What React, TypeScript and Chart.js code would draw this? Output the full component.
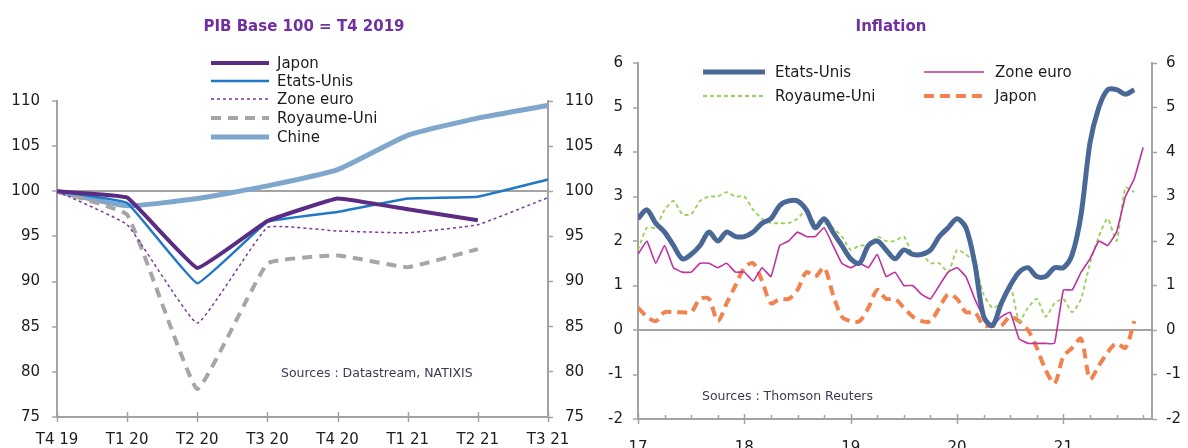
import React, { useEffect, useRef } from 'react';
import { Chart, registerables } from 'chart.js';

Chart.register(...registerables);

// ---------- PIB (Base 100 = T4 2019) ----------
const PIB_LABELS = ['T4 19', 'T1 20', 'T2 20', 'T3 20', 'T4 20', 'T1 21', 'T2 21', 'T3 21'];
const PIB_JAPON = [100, 99.3, 91.5, 96.7, 99.2, 98.0, 96.8, null];
const PIB_ETATS_UNIS = [100, 98.7, 89.8, 96.6, 97.7, 99.2, 99.4, 101.3];
const PIB_ZONE_EURO = [100, 96.3, 85.4, 96.0, 95.6, 95.4, 96.3, 99.3];
const PIB_ROYAUME_UNI = [100, 97.4, 78.1, 92.0, 92.9, 91.6, 93.6, null];
const PIB_CHINE = [100, 98.4, 99.2, 100.6, 102.4, 106.2, 108.1, 109.5];

// ---------- Inflation (monthly, from Jan 2017) ----------
const INF_YEAR_LABELS = ['17', '18', '19', '20', '21'];
const INF_ETATS_UNIS = [
  2.5, 2.7, 2.4, 2.2, 1.9, 1.6, 1.7, 1.9, 2.2, 2.0, 2.2, 2.1,
  2.1, 2.2, 2.4, 2.5, 2.8, 2.9, 2.9, 2.7, 2.3, 2.5, 2.2, 1.9,
  1.6, 1.5, 1.9, 2.0, 1.8, 1.6, 1.8, 1.7, 1.7, 1.8, 2.1, 2.3,
  2.5, 2.3, 1.5, 0.3, 0.1, 0.6, 1.0, 1.3, 1.4, 1.2, 1.2, 1.4,
  1.4, 1.7, 2.6, 4.2, 5.0, 5.4, 5.4, 5.3, 5.4,
];
const INF_ZONE_EURO = [
  1.7, 2.0, 1.5, 1.9, 1.4, 1.3, 1.3, 1.5, 1.5, 1.4, 1.5, 1.3,
  1.3, 1.1, 1.4, 1.2, 1.9, 2.0, 2.2, 2.1, 2.1, 2.3, 1.9, 1.5,
  1.4, 1.5, 1.4, 1.7, 1.2, 1.3, 1.0, 1.0, 0.8, 0.7, 1.0, 1.3,
  1.4, 1.2, 0.7, 0.3, 0.1, 0.3, 0.4, -0.2, -0.3, -0.3, -0.3, -0.3,
  0.9, 0.9, 1.3, 1.6, 2.0, 1.9, 2.2, 3.0, 3.4, 4.1,
];
const INF_ROYAUME_UNI = [
  1.8, 2.3, 2.3, 2.7, 2.9, 2.6, 2.6, 2.9, 3.0, 3.0, 3.1, 3.0,
  3.0, 2.7, 2.5, 2.4, 2.4, 2.4, 2.5, 2.7, 2.4, 2.4, 2.3, 2.1,
  1.8, 1.9, 1.9, 2.1, 2.0, 2.0, 2.1, 1.7, 1.7, 1.5, 1.5, 1.3,
  1.8, 1.7, 1.5, 0.8, 0.5, 0.6, 1.0, 0.2, 0.5, 0.7, 0.3, 0.6,
  0.7, 0.4, 0.7, 1.5, 2.1, 2.5, 2.0, 3.2, 3.1,
];
const INF_JAPON = [
  0.5, 0.3, 0.2, 0.4, 0.4, 0.4, 0.4, 0.7, 0.7, 0.2, 0.6, 1.0,
  1.4, 1.5, 1.1, 0.6, 0.7, 0.7, 0.9, 1.3, 1.2, 1.4, 0.8, 0.3,
  0.2, 0.2, 0.5, 0.9, 0.7, 0.7, 0.5, 0.3, 0.2, 0.2, 0.5, 0.8,
  0.7, 0.4, 0.4, 0.1, 0.1, 0.1, 0.3, 0.2, 0.0, -0.4, -0.9, -1.2,
  -0.6, -0.4, -0.2, -1.1, -0.8, -0.5, -0.3, -0.4, 0.2,
];
const INF_MONTHS_ON_AXIS = 58;

const AXIS = '#a3a3a3';
const FONT = 'DejaVu Sans';
const TICK_FONT = { family: FONT, size: 15 };
const TICK_COLOR = '#1c1c1c';
const TITLE_COLOR = '#7030a0';

const toPoints = (arr: number[]) => arr.map((y, i) => ({ x: i, y }));

const xTicksPlugin = (positions: number[], isMajor: (v: number) => boolean) => ({
  id: 'customXTicks',
  afterDraw(chart: any) {
    const { ctx, chartArea, scales } = chart;
    const sx = scales.x;
    ctx.save();
    ctx.strokeStyle = AXIS;
    ctx.lineWidth = 1.5;
    positions.forEach((v) => {
      const px = Math.round(sx.getPixelForValue(v)) + 0.5;
      const major = isMajor(v);
      ctx.beginPath();
      ctx.moveTo(px, chartArea.bottom - (major ? 5 : 4));
      ctx.lineTo(px, chartArea.bottom + (major ? 5 : 0));
      ctx.stroke();
    });
    ctx.restore();
  },
});

function LegendItem(props: { x1: number; x2: number; tx: number; y: number; color: string; w: number; dash?: string; label: string }) {
  const { x1, x2, tx, y, color, w, dash, label } = props;
  return (
    <>
      <svg style={{ position: 'absolute', left: x1, top: y - 5, overflow: 'visible' }} width={x2 - x1} height={10}>
        <line x1={0} y1={5} x2={x2 - x1} y2={5} stroke={color} strokeWidth={w} strokeDasharray={dash} />
      </svg>
      <div style={{ position: 'absolute', left: tx, top: y - 9, lineHeight: '18px', font: `15px '${FONT}'`, color: '#1c1c1c', whiteSpace: 'nowrap' }}>{label}</div>
    </>
  );
}

export default function App() {
  const pibRef = useRef<HTMLCanvasElement>(null);
  const infRef = useRef<HTMLCanvasElement>(null);

  useEffect(() => {
    const yGrid = (zero: number) => ({
      color: (c: any) => (c.tick && c.tick.value === zero ? AXIS : 'rgba(0,0,0,0)'),
      lineWidth: 2,
      tickColor: AXIS,
      tickWidth: 1.5,
      tickLength: 5,
    });

    const pib = new Chart(pibRef.current!, {
      type: 'line',
      data: {
        labels: PIB_LABELS,
        datasets: [
          { label: 'Japon', data: PIB_JAPON, borderColor: '#5b2c83', borderWidth: 4, tension: 0.08 },
          { label: 'Etats-Unis', data: PIB_ETATS_UNIS, borderColor: '#1f78c8', borderWidth: 2.5, tension: 0.08 },
          { label: 'Zone euro', data: PIB_ZONE_EURO, borderColor: '#7b3a9a', borderWidth: 1.5, borderDash: [3, 3], tension: 0.1 },
          { label: 'Royaume-Uni', data: PIB_ROYAUME_UNI, borderColor: '#a6a6a6', borderWidth: 4, borderDash: [10, 7], tension: 0.1 },
          { label: 'Chine', data: PIB_CHINE, borderColor: '#7fa6cc', borderWidth: 5, tension: 0.15 },
        ],
      },
      options: {
        animation: false,
        responsive: false,
        layout: { padding: { top: 101, left: 0, right: 0, bottom: 0 } },
        elements: { point: { radius: 0 }, line: { borderCapStyle: 'butt' } },
        plugins: { legend: { display: false }, title: { display: false }, tooltip: { enabled: false } },
        scales: {
          x: {
            type: 'category',
            offset: false,
            grid: { drawOnChartArea: false, drawTicks: false, color: AXIS },
            border: { color: AXIS, width: 2 },
            ticks: { font: TICK_FONT, color: TICK_COLOR, padding: 14, maxRotation: 0, autoSkip: false },
            afterFit: (s: any) => { s.height = 31; },
          },
          y: {
            position: 'left',
            min: 75, max: 110,
            ticks: { stepSize: 5, font: TICK_FONT, color: TICK_COLOR, padding: 12 },
            grid: yGrid(100),
            border: { color: AXIS, width: 2 },
            afterFit: (s: any) => { s.width = 57; },
          },
          y2: {
            position: 'right',
            min: 75, max: 110,
            ticks: { stepSize: 5, font: TICK_FONT, color: TICK_COLOR, padding: 12 },
            grid: { drawOnChartArea: false, tickColor: AXIS, tickWidth: 1.5, tickLength: 5 },
            border: { color: AXIS, width: 2 },
            afterFit: (s: any) => { s.width = 52; },
          },
        },
      },
      plugins: [xTicksPlugin(PIB_LABELS.map((_, i) => i), () => true)],
    } as any);

    const quarterTicks: number[] = [];
    for (let m = 0; m <= INF_MONTHS_ON_AXIS; m += 3) quarterTicks.push(m);

    const inf = new Chart(infRef.current!, {
      type: 'line',
      data: {
        datasets: [
          { label: 'Etats-Unis', data: toPoints(INF_ETATS_UNIS), borderColor: '#4a6896', borderWidth: 5, tension: 0.3 },
          { label: 'Zone euro', data: toPoints(INF_ZONE_EURO), borderColor: '#c0309f', borderWidth: 1.6, tension: 0.1 },
          { label: 'Royaume-Uni', data: toPoints(INF_ROYAUME_UNI), borderColor: '#98d255', borderWidth: 1.8, borderDash: [4, 3], tension: 0.2 },
          { label: 'Japon', data: toPoints(INF_JAPON), borderColor: '#f2824e', borderWidth: 4, borderDash: [10, 6], tension: 0.3 },
        ],
      },
      options: {
        animation: false,
        responsive: false,
        layout: { padding: { top: 63, left: 0, right: 0, bottom: 0 } },
        elements: { point: { radius: 0 }, line: { borderCapStyle: 'butt' } },
        plugins: { legend: { display: false }, title: { display: false }, tooltip: { enabled: false } },
        scales: {
          x: {
            type: 'linear',
            min: 0, max: INF_MONTHS_ON_AXIS,
            grid: { drawOnChartArea: false, drawTicks: false, color: AXIS },
            border: { color: AXIS, width: 2 },
            ticks: {
              stepSize: 12, includeBounds: false, autoSkip: false, maxRotation: 0,
              font: TICK_FONT, color: TICK_COLOR, padding: 20,
              callback: (v: any) => INF_YEAR_LABELS[Math.round(Number(v) / 12)] ?? '',
            },
            afterFit: (s: any) => { s.height = 29; },
          },
          y: {
            position: 'left',
            min: -2, max: 6,
            ticks: { stepSize: 1, font: TICK_FONT, color: TICK_COLOR, padding: 10 },
            grid: yGrid(0),
            border: { color: AXIS, width: 2 },
            afterFit: (s: any) => { s.width = 38; },
          },
          y2: {
            position: 'right',
            min: -2, max: 6,
            ticks: { stepSize: 1, font: TICK_FONT, color: TICK_COLOR, padding: 9 },
            grid: { drawOnChartArea: false, tickColor: AXIS, tickWidth: 1.5, tickLength: 5 },
            border: { color: AXIS, width: 2 },
            afterFit: (s: any) => { s.width = 36; },
          },
        },
      },
      plugins: [xTicksPlugin(quarterTicks, (v) => v % 12 === 0)],
    } as any);

    return () => {
      pib.destroy();
      inf.destroy();
    };
  }, []);

  const titleStyle = (cx: number): React.CSSProperties => ({
    position: 'absolute', left: cx, top: 17, transform: 'translateX(-50%)', whiteSpace: 'nowrap',
    font: `bold 15px '${FONT}'`, lineHeight: '18px', color: TITLE_COLOR,
  });
  const srcStyle = (x: number, y: number): React.CSSProperties => ({
    position: 'absolute', left: x, top: y - 8, lineHeight: '16px', whiteSpace: 'nowrap',
    font: `12.5px '${FONT}'`, color: '#3a3a52',
  });

  return (
    <div style={{ position: 'absolute', left: 0, top: 0, width: 1188, height: 448, background: '#fff', overflow: 'hidden' }}>
      <canvas ref={pibRef} width={600} height={448} style={{ position: 'absolute', left: 0, top: 0, width: 600, height: 448 }} />
      <canvas ref={infRef} width={588} height={448} style={{ position: 'absolute', left: 600, top: 0, width: 588, height: 448 }} />

      <div style={titleStyle(304)}>PIB Base 100 = T4 2019</div>
      <div style={titleStyle(891)}>Inflation</div>

      <LegendItem x1={211} x2={269} tx={277} y={63} color="#5b2c83" w={4} label="Japon" />
      <LegendItem x1={211} x2={269} tx={277} y={81} color="#1f78c8" w={2.5} label="Etats-Unis" />
      <LegendItem x1={211} x2={269} tx={277} y={99} color="#7b3a9a" w={1.5} dash="3 3" label="Zone euro" />
      <LegendItem x1={211} x2={269} tx={277} y={118} color="#a6a6a6" w={4} dash="10 7" label="Royaume-Uni" />
      <LegendItem x1={211} x2={269} tx={277} y={137} color="#7fa6cc" w={5} label="Chine" />

      <LegendItem x1={703} x2={765} tx={775} y={72} color="#4a6896" w={5} label="Etats-Unis" />
      <LegendItem x1={924} x2={984} tx={995} y={72} color="#c0309f" w={1.6} label="Zone euro" />
      <LegendItem x1={703} x2={765} tx={775} y={96} color="#98d255" w={1.8} dash="4 3" label="Royaume-Uni" />
      <LegendItem x1={924} x2={984} tx={995} y={96} color="#f2824e" w={4} dash="10 6" label="Japon" />

      <div style={srcStyle(281, 373)}>Sources : Datastream, NATIXIS</div>
      <div style={srcStyle(702, 396)}>Sources : Thomson Reuters</div>
    </div>
  );
}
